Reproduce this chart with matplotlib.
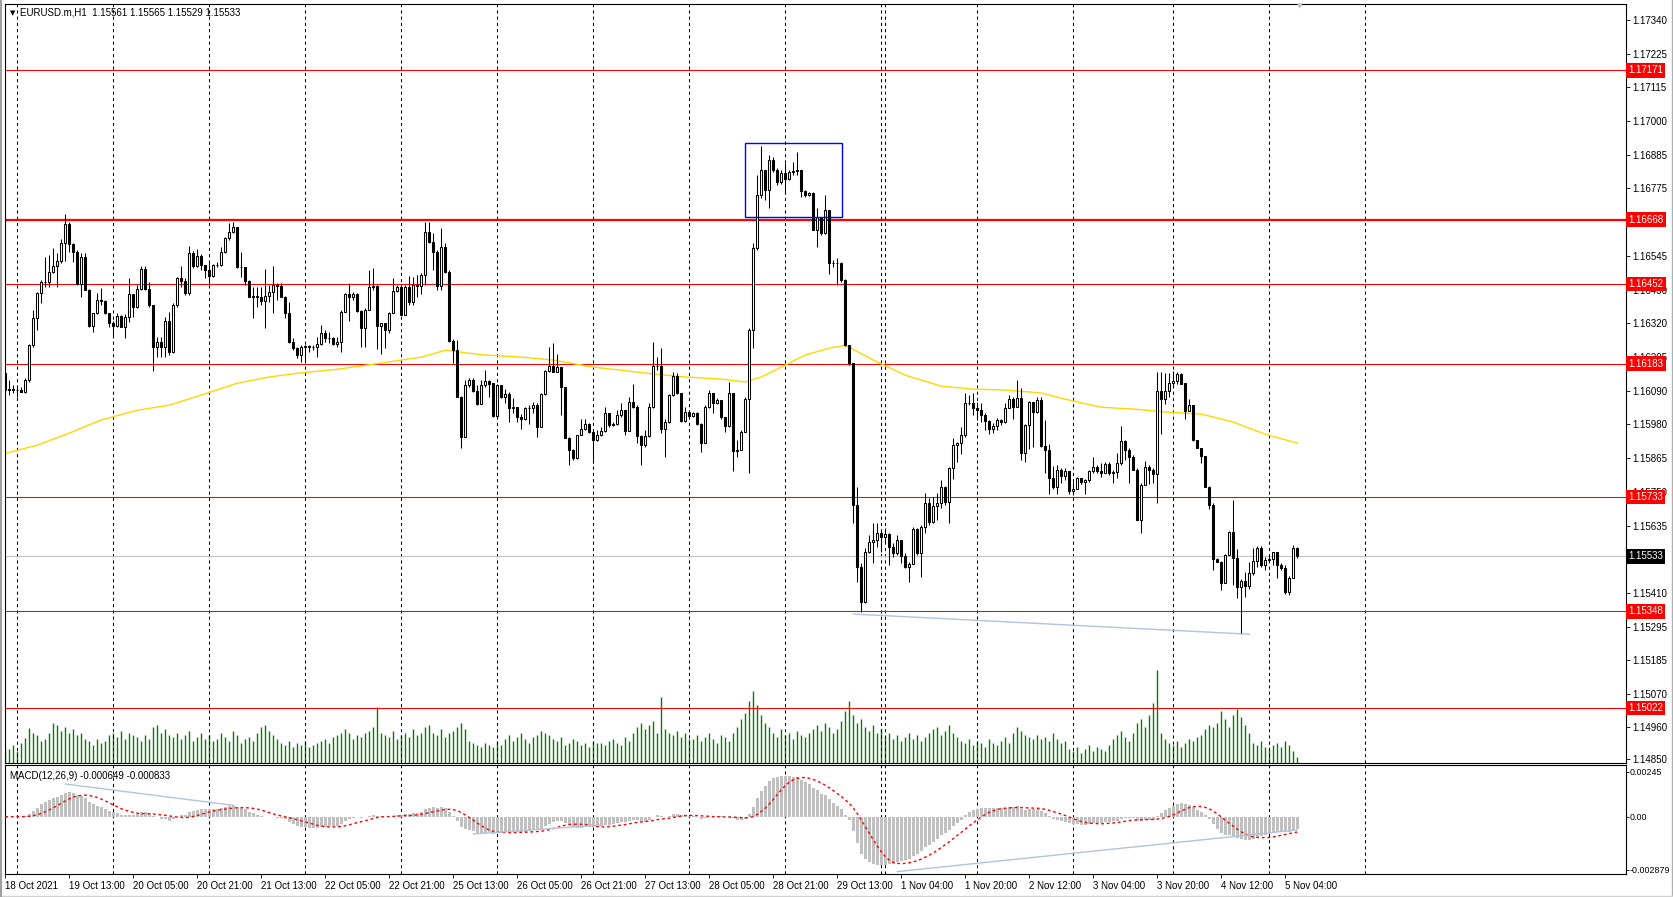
import numpy as np
import pandas as pd
import matplotlib
matplotlib.use("Agg")
import matplotlib.pyplot as plt
import matplotlib.transforms as mtransforms
from matplotlib.patches import Rectangle
from matplotlib.lines import Line2D

plt.rcParams['font.family'] = ['Liberation Sans', 'DejaVu Sans']

# ---- data (EURUSD H1) ----
header = "EURUSD.m,H1  1.15561 1.15565 1.15529 1.15533"
open0 = 1.16153

close = np.array([
    116094, 116096, 116094, 116094, 116089, 116128, 116246, 116336, 116420, 116459,
    116459, 116493, 116512, 116529, 116588, 116653, 116586, 116560, 116451, 116543,
    116431, 116310, 116353, 116397, 116395, 116353, 116321, 116310, 116344, 116308,
    116341, 116416, 116373, 116433, 116501, 116433, 116381, 116240, 116255, 116240,
    116328, 116223, 116380, 116470, 116463, 116422, 116555, 116512, 116546, 116514,
    116498, 116478, 116514, 116514, 116558, 116605, 116628, 116642, 116510, 116507,
    116463, 116409, 116411, 116409, 116395, 116411, 116425, 116448, 116446, 116409,
    116353, 116257, 116235, 116212, 116240, 116242, 116238, 116240, 116249, 116285,
    116268, 116268,
    116249, 116257, 116358, 116416, 116406, 116416, 116361, 116302, 116364, 116440,
    116445, 116311, 116319, 116296, 116355, 116429, 116440, 116347, 116442, 116392,
    116448, 116445, 116482, 116628, 116592, 116560, 116445, 116577, 116493, 116260,
    116229, 116072, 115937, 116111,
    116127, 116091, 116047, 116111, 116124, 116116, 116007, 116111, 116071, 116082,
    116035, 116038, 116004, 115996, 116035, 116035, 116043, 115970, 116079, 116158,
    116175, 116155, 116172, 116103, 115931, 115892, 115864, 115942, 115962, 115979,
    115953, 115925, 115942, 115956, 116015, 115976, 115981, 116009, 116026, 115956,
    116054, 116038, 115940, 115908, 115940, 116038, 116175, 116175, 115962, 115987,
    116077, 116141, 116083, 115990, 116021, 116006, 116018, 115981, 115916, 116038,
    116083, 116049, 116060, 116002, 115972, 116085, 115889, 115892, 115951, 116063,
    116296, 116571, 116751, 116835, 116768, 116869, 116835, 116796, 116826, 116805,
    116830, 116832, 116837, 116766, 116751, 116757, 116635, 116678, 116622, 116700,
    116523, 116523, 116521, 116465, 116246, 116186, 115707, 115496, 115378, 115549,
    115583, 115589, 115611, 115600, 115609, 115566, 115544, 115589, 115535, 115496,
    115508, 115625, 115546, 115634, 115712, 115650, 115703, 115712, 115768, 115718,
    115830, 115909, 115914, 115942, 116051, 116051, 116032, 116027, 116010, 115991,
    115962, 115973, 115993, 115987, 116032, 116063, 116038, 116066, 115881, 115976,
    116055, 116021, 116060,
    115905, 115891, 115799, 115766, 115824, 115804, 115822, 115754, 115762, 115796,
    115785, 115790, 115821, 115835, 115822, 115815, 115844, 115815, 115818, 115849,
    115923, 115891, 115869, 115824, 115656, 115774, 115835, 115824, 115811, 116091,
    116063, 116091, 116118, 116125, 116147, 116116, 116024, 116043, 115925, 115900,
    115871, 115768, 115706, 115523, 115515, 115442, 115538, 115616, 115527, 115431,
    115451, 115433, 115476, 115519, 115563, 115504, 115521, 115523, 115547, 115504,
    115493, 115414, 115459, 115561, 115533]) / 1e5

high = np.array([
    116156, 116128, 116111, 116105, 116105, 116134, 116249, 116364, 116425, 116465,
    116543, 116549, 116571, 116555, 116602, 116687, 116661, 116588, 116566, 116555,
    116555, 116433, 116355, 116422, 116437, 116397, 116355, 116328, 116355, 116347,
    116350, 116470, 116418, 116448, 116512, 116512, 116459, 116381, 116274, 116274,
    116341, 116358, 116386, 116476, 116512, 116470, 116579, 116564, 116568, 116552,
    116515, 116527, 116519, 116527, 116575, 116611, 116658, 116661, 116644, 116560,
    116510, 116465, 116442, 116442, 116442, 116502, 116448, 116512, 116456, 116454,
    116411, 116392, 116268, 116240, 116245, 116246, 116246, 116246, 116274, 116313,
    116296, 116291,
    116274, 116274, 116364, 116420, 116454, 116425, 116420, 116364, 116369, 116498,
    116504, 116448, 116321, 116319, 116358, 116470, 116448, 116442, 116448, 116478,
    116476, 116482, 116487, 116661, 116661, 116622, 116566, 116639, 116588, 116498,
    116265, 116263, 116074, 116128,
    116133, 116136, 116111, 116127, 116161, 116127, 116116, 116116, 116111, 116099,
    116088, 116066, 116038, 116013, 116038, 116043, 116054, 116049, 116083, 116161,
    116240, 116253, 116217, 116172, 116105, 115937, 115894, 115942, 115995, 115995,
    115984, 115931, 115959, 115970, 116038, 116015, 115987, 116026, 116049, 116026,
    116071, 116116, 116043, 115942, 115959, 116049, 116257, 116206, 116237, 115995,
    116080, 116155, 116150, 116083, 116038, 116026, 116021, 116021, 115984, 116043,
    116094, 116085, 116066, 116062, 116004, 116122, 116085, 115925, 115959, 116071,
    116302, 116588, 116818, 116916, 116837, 116886, 116880, 116841, 116835, 116858,
    116835, 116863, 116897, 116837, 116768, 116762, 116762, 116706, 116678, 116751,
    116700, 116532, 116538, 116526, 116467, 116246, 116186, 115768, 115510, 115561,
    115606, 115645, 115645, 115622, 115628, 115611, 115577, 115606, 115577, 115544,
    115516, 115634, 115628, 115639, 115746, 115729, 115735, 115746, 115791, 115771,
    115834, 115931, 115920, 115971, 116083, 116077, 116083, 116055, 116049, 116018,
    115993, 115982, 115999, 115995, 116049, 116077, 116072, 116128, 116100, 115980,
    116058, 116055, 116072,
    116071, 115992, 115912, 115838, 115841, 115830, 115830, 115815, 115785, 115802,
    115796, 115793, 115826, 115869, 115841, 115847, 115852, 115852, 115826, 115882,
    115972, 115925, 115897, 115875, 115830, 115779, 115856, 115841, 115830, 116155,
    116155, 116150, 116152, 116159, 116155, 116152, 116118, 116065, 116026, 115925,
    115900, 115813, 115770, 115714, 115527, 115519, 115543, 115620, 115723, 115557,
    115456, 115481, 115515, 115560, 115568, 115568, 115532, 115538, 115549, 115549,
    115512, 115504, 115467, 115571, 115565]) / 1e5

low = np.array([
    116092, 116077, 116083, 116072, 116086, 116083, 116122, 116240, 116296, 116386,
    116442, 116442, 116487, 116442, 116521, 116530, 116560, 116527, 116448, 116406,
    116431, 116308, 116291, 116350, 116381, 116350, 116305, 116274, 116308, 116305,
    116268, 116324, 116341, 116369, 116431, 116431, 116375, 116159, 116206, 116206,
    116206, 116212, 116220, 116375, 116442, 116414, 116414, 116504, 116507, 116498,
    116470, 116448, 116476, 116510, 116512, 116555, 116600, 116622, 116504, 116474,
    116448, 116406, 116336, 116375, 116381, 116302, 116392, 116353, 116397, 116406,
    116336, 116254, 116229, 116201, 116190, 116193, 116223, 116229, 116206, 116246,
    116257, 116251,
    116246, 116240, 116222, 116358, 116328, 116397, 116358, 116240, 116238, 116364,
    116431, 116231, 116214, 116235, 116285, 116353, 116425, 116347, 116366, 116381,
    116381, 116409, 116418, 116448, 116588, 116498, 116431, 116431, 116487, 116257,
    116184, 116072, 115898, 115937,
    116105, 116088, 116043, 116049, 116103, 116071, 116004, 116004, 116066, 116049,
    115987, 116015, 115987, 115961, 115993, 115981, 116015, 115937, 115970, 116077,
    116155, 116155, 116155, 116010, 115931, 115843, 115858, 115861, 115942, 115959,
    115948, 115849, 115923, 115940, 115951, 115970, 115972, 115976, 116004, 115942,
    115959, 116032, 115914, 115841, 115903, 115937, 116035, 116163, 115948, 115869,
    115984, 116074, 116080, 115987, 115987, 116004, 116004, 115976, 115886, 115914,
    116035, 116017, 116047, 115998, 115953, 115970, 115821, 115869, 115892, 115957,
    115816, 116234, 116566, 116740, 116734, 116706, 116830, 116785, 116790, 116762,
    116802, 116818, 116818, 116745, 116745, 116748, 116633, 116577, 116616, 116620,
    116485, 116507, 116448, 116459, 116242, 116178, 115645, 115448, 115347, 115375,
    115546, 115512, 115566, 115549, 115577, 115504, 115530, 115538, 115510, 115493,
    115448, 115510, 115538, 115465, 115611, 115639, 115645, 115656, 115695, 115707,
    115645, 115793, 115853, 115878, 115937, 116044, 116010, 115993, 115987, 115959,
    115946, 115948, 115959, 115976, 115982, 116032, 115995, 116036, 115858, 115853,
    115894, 115903, 116018,
    115903, 115813, 115745, 115762, 115745, 115779, 115790, 115745, 115740, 115768,
    115777, 115743, 115785, 115813, 115815, 115802, 115818, 115807, 115779, 115796,
    115841, 115858, 115781, 115824, 115656, 115613, 115774, 115777, 115779, 115712,
    115945, 116046, 116071, 116103, 116116, 116114, 115995, 116024, 115923, 115900,
    115849, 115768, 115692, 115487, 115515, 115420, 115442, 115538, 115437, 115392,
    115274, 115397, 115425, 115470, 115498, 115498, 115487, 115515, 115504, 115462,
    115487, 115406, 115403, 115459, 115529]) / 1e5

# tick volume per bar
volume = np.array([
    480, 420, 540, 360, 600,                                   # 0-4
    750, 1050, 900, 840, 660, 720,                             # 5-10
    900, 1200, 1140, 960, 1080, 900,                           # 11-16
    1020, 840, 900, 720,                                       # 17-20
    660, 540, 720, 600, 660,                                   # 21-25
    840, 900, 780, 960, 720, 900, 840, 780,                    # 26-33
    660, 840, 720,                                             # 34-36
    1080, 1140, 900, 1020, 840,                                # 37-41
    780, 900, 720, 840, 960, 660, 780, 900, 720, 840, 660,     # 42-52
    720, 900, 780, 660, 960, 840, 600, 720, 780, 660,          # 53-62
    900, 1080, 1140, 960, 840, 720, 600,                       # 63-69
    540, 660, 480, 600, 540, 660, 480, 540, 600,               # 70-78
    660, 720, 600, 780, 840, 900,                              # 79-84
    1020, 900,                                                 # 85-86
    720, 840, 780, 900, 960,                                   # 87-91
    1080, 1680,                                                # 92-93
    900, 840, 780, 960, 720, 840, 900, 780, 1020, 840, 900, 1080,  # 94-105
    1140, 900, 840, 1020, 780, 900, 960, 1080, 1200, 1020,     # 106-115
    660, 600, 540, 480, 600, 540, 480, 660, 540,               # 116-124
    720, 840, 660, 780, 900, 720, 600, 780, 840, 960, 900, 840, 720,  # 125-137
    660, 780, 540, 600, 720, 660, 540, 600, 480, 660, 600,     # 138-148
    600, 540, 660, 720, 600, 540, 780, 660,                    # 149-156
    900, 1080, 1200, 1020, 1140, 1260, 900,                    # 157-163
    1980,                                                      # 164
    1020, 900, 840, 960, 780, 900, 720,                        # 165-171
    720, 840, 660, 780, 900, 720, 600, 840, 780, 660, 900,     # 172-182
    1080, 1320, 1500, 1860, 2160, 1740,                        # 183-188
    1440, 1200, 1080,                                          # 189-191
    900, 780, 1020, 840, 900, 720, 960, 840, 780, 900,         # 192-201
    1020, 1140, 960, 1200, 1080, 900, 1020, 1260,              # 202-209
    1560, 1860,                                                # 210-211
    1440, 1200, 1320, 1080, 960, 1140, 900, 1020,              # 212-219
    780, 900, 720, 840, 660, 780, 900, 720, 840, 660, 780,     # 220-230
    900, 1020, 1080, 840, 960, 1140, 900, 780,                 # 231-238
    660, 600, 720, 540, 660, 600, 480, 720, 600, 540, 660, 780, 600,  # 239-251
    900, 1080, 960, 840, 780, 720,                             # 252-257
    840, 720, 780, 660, 900, 720, 600, 660,                    # 258-265
    420, 360, 480, 300, 420, 540, 360, 480, 420, 360, 540,     # 266-276
    720, 840, 960, 780, 660,                                   # 277-281
    900, 1200, 1320, 1080, 1440,                               # 282-286
    1800, 2790,                                                # 287-288
    900, 720, 600, 540, 660, 480, 600, 720, 660, 780, 840,     # 289-299
    1020, 1140, 1080,                                          # 300-302
    1200, 1560, 1320, 1080, 1440, 1620,                        # 303-308
    1380, 1140, 900,                                           # 309-311
    600, 540, 660, 480, 420, 540, 600, 480, 660, 540, 360, 180])  # 312-323

# yellow moving average, read at sample bars
ma_bar = [0, 8, 16, 24, 33, 41, 49, 58, 66, 74, 83, 92, 99, 104, 110, 116, 120, 129,
          137, 147, 154, 162, 170, 179, 185, 189, 195, 200, 206, 210, 217, 225, 234,
          242, 250, 259, 265, 274, 282, 290, 299, 307, 315, 323]
ma_val = [1.15881, 1.15908, 1.15949, 1.15993, 1.16026, 1.16043, 1.16077, 1.16117,
          1.16138, 1.16152, 1.16164, 1.16181, 1.16195, 1.16205, 1.16228, 1.16218,
          1.16212, 1.16205, 1.16195, 1.16171, 1.16161, 1.16148, 1.16138, 1.16131,
          1.16121, 1.16138, 1.16178, 1.16212, 1.16235, 1.16245, 1.16195, 1.16144,
          1.16107, 1.16097, 1.16094, 1.16084, 1.16063, 1.16036, 1.16030, 1.16020,
          1.16013, 1.15986, 1.15945, 1.15915]

levels = [1.17171, 1.16668, 1.16452, 1.16183, 1.15733, 1.15348, 1.15022]
level_lw = [0.75, 1.6, 0.75, 0.75, 0.75, 0.75, 0.75]
last_price = 1.15533

# price scale ticks (1.16660 and 1.15520 sit fully under the level labels)
price_ticks = [1.17340, 1.17225, 1.17115, 1.17000, 1.16885, 1.16775, 1.16545,
               1.16430, 1.16320, 1.16205, 1.16090, 1.15980, 1.15865, 1.15750, 1.15635,
               1.15410, 1.15295, 1.15185, 1.15070, 1.14960, 1.14850]

time_labels = ["18 Oct 2021", "19 Oct 13:00", "20 Oct 05:00", "20 Oct 21:00", "21 Oct 13:00",
               "22 Oct 05:00", "22 Oct 21:00", "25 Oct 13:00", "26 Oct 05:00", "26 Oct 21:00",
               "27 Oct 13:00", "28 Oct 05:00", "28 Oct 21:00", "29 Oct 13:00", "1 Nov 04:00",
               "1 Nov 20:00", "2 Nov 12:00", "3 Nov 04:00", "3 Nov 20:00", "4 Nov 12:00",
               "5 Nov 04:00"]
label_step = 16
grid_bars = [3, 27, 51, 75, 99, 123, 147, 171, 195, 219, 220, 243, 267, 292, 316, 340]

box_bars = (184.9, 209.1)
box_prices = (1.16676, 1.16925)
trend_bars = (212, 311)
trend_prices = (1.15339, 1.15271)

# trend lines drawn on the MACD window: (bar0, bar1), (value0, value1)
macd_trends = [((15, 57), (0.00178, 0.00062)),
               ((117, 149), (-0.00094, -0.00045)),
               ((223, 323), (-0.00299, -0.00072))]

macd_ticks = [0.00245, 0.0, -0.002879]
macd_tick_labels = ["0.00245", "0.00", "-0.002879"]
macd_text = "MACD(12,26,9) -0.000649 -0.000833"

# ---- derived ----
n = len(close)
x = np.arange(n)
opn = np.r_[open0, close[:-1]]          # FX bars open at the previous close
high = np.maximum(high, np.maximum(opn, close))
low = np.minimum(low, np.minimum(opn, close))
up = close >= opn

s = pd.Series(close)
macd = (s.ewm(span=12, adjust=False).mean() - s.ewm(span=26, adjust=False).mean()).values
signal = pd.Series(macd).rolling(9, min_periods=1).mean().values

# ---- figure ----
W, H = 1673, 897
fig = plt.figure(figsize=(W / 100, H / 100), dpi=100)
left, right = 4.7 / W, 1625.7 / W
ax = fig.add_axes([left, 1 - 762.7 / H, right - left, (762.7 - 4.3) / H])
axv = fig.add_axes(ax.get_position(), sharex=ax)
axm = fig.add_axes([left, 1 - 874 / H, right - left, (874 - 765) / H])

xlim = (-0.15, 405.1)
for a in (ax, axm):
    a.set_xlim(*xlim)
    for sp in a.spines.values():
        sp.set_linewidth(0.8)
        sp.set_color("black")
    for g in grid_bars:
        a.axvline(g, color="black", lw=0.75, ls=(0, (3, 3)), zorder=1)

ax.set_ylim(1.14838, 1.17394)

# tick volume along the bottom of the price window
axv.set_zorder(ax.get_zorder() - 1)
ax.patch.set_visible(False)
axv.vlines(x, 0, volume, color="#008000", lw=1.0)
axv.set_ylim(0, 2790 * 758.4 / 93)
axv.axis("off")

# levels
for lv, lw in zip(levels, level_lw):
    ax.axhline(lv, color="red", lw=lw, zorder=2)
ax.axhline(last_price, color="#c0c0c0", lw=0.75, zorder=2)

# moving average
ax.plot(ma_bar, ma_val, color="#ffd700", lw=1.0, zorder=2)

# candles
ax.vlines(x, low, high, color="black", lw=0.75, zorder=3)
ax.bar(x[up], (close - opn)[up], bottom=opn[up], width=0.55, color="white",
       edgecolor="black", lw=0.75, zorder=4)
ax.bar(x[~up], (opn - close)[~up], bottom=close[~up], width=0.55, color="black",
       edgecolor="black", lw=0.75, zorder=4)

# drawn objects
ax.add_patch(Rectangle((box_bars[0], box_prices[0]), box_bars[1] - box_bars[0],
                       box_prices[1] - box_prices[0], fill=False, ec="#0000ff", lw=1.0, zorder=5))
ax.plot(trend_bars, trend_prices, color="#b0c4de", lw=1.0, zorder=2)

# right price axis
ax.yaxis.tick_right()
ax.set_yticks(price_ticks)
ax.set_yticklabels([f"{p:.5f}" for p in price_ticks])
ax.tick_params(axis="y", direction="out", length=3, width=0.6, pad=2, labelsize=7)
ax.tick_params(axis="x", bottom=False, labelbottom=False)

trans = mtransforms.blended_transform_factory(ax.transAxes, ax.transData)
for lv in levels:
    ax.text(1.0016, lv, f"{lv:.5f}", transform=trans, ha="left", va="center", fontsize=7,
            color="white", bbox=dict(fc="red", ec="none", pad=1.6), clip_on=False, zorder=10)
ax.text(1.0016, last_price, f"{last_price:.5f}", transform=trans, ha="left", va="center",
        fontsize=7, color="white", bbox=dict(fc="black", ec="none", pad=1.6), clip_on=False, zorder=10)

# MACD panel
axm.bar(x, macd, width=0.65, color="#c0c0c0", zorder=2)
axm.plot(x, signal, color="red", lw=1.0, ls=(0, (2, 2)), zorder=3)
for bars, vals in macd_trends:
    axm.plot(bars, vals, color="#b0c4de", lw=1.0, zorder=4)
axm.set_ylim(-0.00312, 0.002815)
axm.yaxis.tick_right()
axm.set_yticks(macd_ticks)
axm.set_yticklabels(macd_tick_labels)
axm.tick_params(axis="y", direction="out", length=2, width=0.6, pad=0.5, labelsize=6.4)
axm.set_xticks(np.arange(len(time_labels)) * label_step)
axm.set_xticklabels(time_labels, ha="left")
axm.tick_params(axis="x", direction="out", length=3, width=0.6, pad=2, labelsize=7)
axm.text(0.003, 0.9, macd_text, transform=axm.transAxes, fontsize=7, va="center")

# header and window frame
fig.text(9.5 / W, 1 - 12.7 / H, "\u25bc", fontsize=5, va="center", family="DejaVu Sans")
fig.text(20.5 / W, 1 - 12.7 / H, header, fontsize=7, va="center")
fig.text(1300 / W, 1 - 6 / H, "\u25bc", fontsize=5, va="center", ha="center",
         color="#c0c0c0", family="DejaVu Sans")
fig.add_artist(Line2D([1 - 1.5 / W] * 2, [0, 1], color="#b0b0b0", lw=1.0))
fig.add_artist(Line2D([0, 1], [1.5 / H] * 2, color="#d0d0d0", lw=1.0))
fig.add_artist(Line2D([1.2 / W] * 2, [0, 1], color="#a0a0a0", lw=1.5))

fig.savefig("out.png", dpi=100)
